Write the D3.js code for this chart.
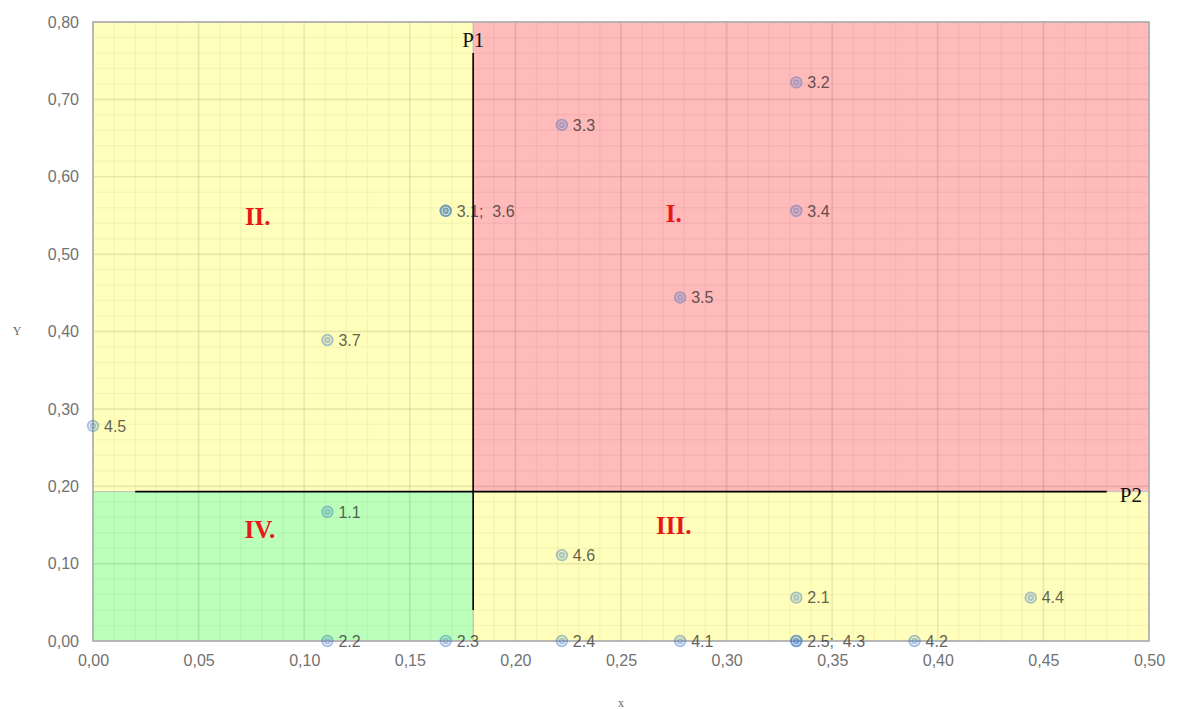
<!DOCTYPE html>
<html>
<head>
<meta charset="utf-8">
<script src="https://cdn.jsdelivr.net/npm/d3@7"></script>
<style>
  body { margin: 0; background: #fff; }
  svg { display: block; }
  .tick-label { font-family: "Liberation Sans", sans-serif; font-size: 16px; fill: #727272; }
  .pt-label { font-family: "Liberation Sans", sans-serif; font-size: 16px; fill: #222; opacity: 0.7; white-space: pre; }
  .region-name { font-family: "Liberation Serif", serif; font-size: 25px; font-weight: bold; fill: #e81818; }
  .line-name { font-family: "Liberation Serif", serif; font-size: 21px; fill: #111; }
  .axis-title { font-family: "Liberation Serif", serif; font-size: 12px; fill: #666; }
</style>
</head>
<body>
<div id="chart"></div>
<script>
// point series
let pointNames = ["1.1", "2.1", "2.2", "2.3", "2.4", "2.5", "3.1", "3.2", "3.3", "3.4",
                  "3.5", "3.6", "3.7", "4.1", "4.2", "4.3", "4.4", "4.5", "4.6"];
let pointX = [0.111, 0.333, 0.111, 0.167, 0.222, 0.333, 0.167, 0.333, 0.222, 0.333,
              0.278, 0.167, 0.111, 0.278, 0.389, 0.333, 0.444, 0.000, 0.222];
let pointY = [0.167, 0.056, 0.000, 0.000, 0.000, 0.000, 0.556, 0.722, 0.667, 0.556,
              0.444, 0.556, 0.389, 0.000, 0.000, 0.000, 0.056, 0.278, 0.111];

// dividing lines P1 / P2
let splitX = 0.18;
let splitY = 0.193;
let p1X = [0.18, 0.18];
let p1Y = [0.04, 0.76];
let p2X = [0.02, 0.48];
let p2Y = [0.193, 0.193];

// quadrant names
let regionNames = ["I.", "II.", "III.", "IV."];

// tick labels
let xTicks = [0, 0.05, 0.10, 0.15, 0.20, 0.25, 0.30, 0.35, 0.40, 0.45, 0.50];
let yTicks = [0, 0.10, 0.20, 0.30, 0.40, 0.50, 0.60, 0.70, 0.80];

let W = 1178, H = 709;
let margin = {top: 22, left: 93, right: 29, bottom: 68};
let width = W - margin.left - margin.right;
let height = H - margin.top - margin.bottom;

let svg = d3.select("#chart").append("svg")
    .attr("width", W)
    .attr("height", H);

let g = svg.append("g")
    .attr("transform", `translate(${margin.left}, ${margin.top})`);

let x = d3.scaleLinear().domain([0, 0.5]).range([0, width]);
let y = d3.scaleLinear().domain([0, 0.8]).range([height, 0]);

let fmt = d => d3.format(".2f")(d).replace(".", ",");

// quadrant backgrounds
let regions = [
    {x0: splitX, x1: 0.5, y0: splitY, y1: 0.8, fill: "#ffbaba"},
    {x0: 0, x1: splitX, y0: splitY, y1: 0.8, fill: "#ffffbb"},
    {x0: splitX, x1: 0.5, y0: 0, y1: splitY, fill: "#ffffbb"},
    {x0: 0, x1: splitX, y0: 0, y1: splitY, fill: "#bbffbb"}
];
g.selectAll("rect.region").data(regions).enter().append("rect")
    .attr("class", "region")
    .attr("x", d => x(d.x0))
    .attr("y", d => y(d.y1))
    .attr("width", d => x(d.x1) - x(d.x0))
    .attr("height", d => y(d.y0) - y(d.y1))
    .attr("fill", d => d.fill)
    .attr("stroke", "#c4c4c4")
    .attr("stroke-width", 1);

// grid: minor then major
let minorX = d3.range(0, 0.5001, 0.01);
let minorY = d3.range(0, 0.8001, 0.02);
let grid = g.append("g").attr("class", "grid");
grid.selectAll("line.mx").data(minorX).enter().append("line")
    .attr("x1", d => x(d)).attr("x2", d => x(d))
    .attr("y1", 0).attr("y2", height)
    .attr("stroke", "#000").attr("stroke-opacity", 0.035).attr("stroke-width", 1.5);
grid.selectAll("line.my").data(minorY).enter().append("line")
    .attr("y1", d => y(d)).attr("y2", d => y(d))
    .attr("x1", 0).attr("x2", width)
    .attr("stroke", "#000").attr("stroke-opacity", 0.035).attr("stroke-width", 1.5);
grid.selectAll("line.MX").data(xTicks).enter().append("line")
    .attr("x1", d => x(d)).attr("x2", d => x(d))
    .attr("y1", 0).attr("y2", height)
    .attr("stroke", "#000").attr("stroke-opacity", 0.05).attr("stroke-width", 2);
grid.selectAll("line.MY").data(yTicks).enter().append("line")
    .attr("y1", d => y(d)).attr("y2", d => y(d))
    .attr("x1", 0).attr("x2", width)
    .attr("stroke", "#000").attr("stroke-opacity", 0.05).attr("stroke-width", 2);

// plot border
g.append("rect")
    .attr("x", 0).attr("y", 0)
    .attr("width", width).attr("height", height)
    .attr("fill", "none")
    .attr("stroke", "#b0b0b0")
    .attr("stroke-width", 1.5);

// axes (labels only)
let xAxis = d3.axisBottom(x).tickValues(xTicks).tickFormat(fmt).tickSize(0).tickPadding(14);
let yAxis = d3.axisLeft(y).tickValues(yTicks).tickFormat(fmt).tickSize(0).tickPadding(14);
g.append("g").attr("transform", `translate(0, ${height})`).call(xAxis)
    .call(a => a.select(".domain").remove())
    .selectAll("text").attr("class", "tick-label");
g.append("g").call(yAxis)
    .call(a => a.select(".domain").remove())
    .selectAll("text").attr("class", "tick-label");

svg.append("text").attr("class", "axis-title")
    .attr("x", 17).attr("y", 331).attr("dy", "0.35em")
    .attr("text-anchor", "middle").text("Y");
svg.append("text").attr("class", "axis-title")
    .attr("x", 621).attr("y", 703).attr("dy", "0.35em")
    .attr("text-anchor", "middle").text("x");

// quadrant names
let regionPos = [[0.275, 0.553], [0.078, 0.549], [0.275, 0.149], [0.079, 0.144]];
g.selectAll("text.region-name").data(regionNames).enter().append("text")
    .attr("class", "region-name")
    .attr("x", (d, i) => x(regionPos[i][0]))
    .attr("y", (d, i) => y(regionPos[i][1]))
    .attr("dy", "0.35em")
    .attr("text-anchor", "middle")
    .text(d => d);

// P1 / P2 lines
let line = d3.line().x(d => x(d[0])).y(d => y(d[1]));
g.append("path")
    .attr("d", line(p1X.map((v, i) => [v, p1Y[i]])))
    .attr("stroke", "#000").attr("stroke-width", 1.6).attr("fill", "none");
g.append("path")
    .attr("d", line(p2X.map((v, i) => [v, p2Y[i]])))
    .attr("stroke", "#000").attr("stroke-width", 1.6).attr("fill", "none");
g.append("text").attr("class", "line-name")
    .attr("x", x(p1X[1]) - 11).attr("y", y(p1Y[1]) - 6)
    .text("P1");
g.append("text").attr("class", "line-name")
    .attr("x", x(p2X[1]) + 13).attr("y", y(p2Y[1]) + 10)
    .text("P2");

// points
let points = pointNames.map((n, i) => ({name: n, x: pointX[i], y: pointY[i]}));
let markers = g.selectAll("g.pt").data(points).enter().append("g")
    .attr("class", "pt")
    .attr("transform", d => `translate(${x(d.x)}, ${y(d.y)})`)
    .attr("opacity", 0.42);
markers.append("circle").attr("r", 5.3)
    .attr("fill", "#2a6cc4").attr("fill-opacity", 0.25)
    .attr("stroke", "#2a6cc4").attr("stroke-width", 1.8);
markers.append("circle").attr("r", 2.4)
    .attr("fill", "#2a6cc4").attr("fill-opacity", 0.4)
    .attr("stroke", "#2a6cc4").attr("stroke-width", 1.4);

// labels, coincident points share one label
let labelGroups = d3.groups(points, d => d.x + "_" + d.y);
g.selectAll("text.pt-label").data(labelGroups).enter().append("text")
    .attr("class", "pt-label")
    .attr("x", d => x(d[1][0].x) + 11)
    .attr("y", d => y(d[1][0].y))
    .attr("dy", "0.36em")
    .text(d => d[1].map(p => p.name).join(";  "));
</script>
</body>
</html>
